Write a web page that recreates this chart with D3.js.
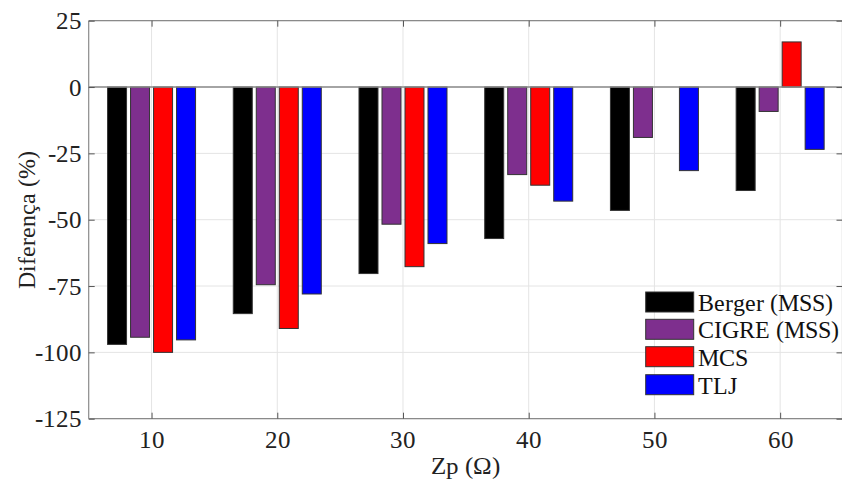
<!DOCTYPE html>
<html>
<head>
<meta charset="utf-8">
<script src="https://cdn.jsdelivr.net/npm/d3@7"></script>
<style>
@font-face { font-family: "ChartSerif"; src: local("Liberation Serif"), local("LiberationSerif"), local("Times New Roman"), local("Tinos"); }
</style>
</head>
<body style="margin:0">
<svg id="chart" width="842" height="486"></svg>
<script>
const categories = [10, 20, 30, 40, 50, 60];
const seriesNames = ["Berger (MSS)", "CIGRE (MSS)", "MCS", "TLJ"];
const berger = [-97, -85.4, -70.3, -57.1, -46.5, -39];
const cigre  = [-94.3, -74.5, -51.7, -33, -19, -9.2];
const mcs    = [-100, -91, -67.7, -37, null, 17];
const tlj    = [-95.3, -78, -59, -43, -31.5, -23.5];
const yTicks = [25, 0, -25, -50, -75, -100, -125];
const xTicks = [10, 20, 30, 40, 50, 60];
const colors = ["#000000", "#7E2F8E", "#FF0000", "#0000FF"];

const seriesValues = [berger, cigre, mcs, tlj];
const FONT = "ChartSerif, 'Liberation Serif', serif";
function serif(sel, size) {
  sel.attr("font-family", FONT).attr("font-size", size)
    .style("font-family", FONT)
    .style("font-size", size + "px");
  return sel;
}

const svg = d3.select("#chart");
const L = 88.7, R = 843, T = 20.7, B = 418.7;

const x = d3.scaleLinear().domain([5, 65]).range([L, R]);
const y = d3.scaleLinear().domain([-125, 25]).range([B, T]);
const x1 = d3.scaleBand().domain(seriesNames).range([-46, 46])
  .paddingInner(4/23).paddingOuter(2/23);

// grid
const grid = svg.append("g");
grid.selectAll("line.gx").data(xTicks).join("line")
  .attr("x1", d => x(d)).attr("x2", d => x(d)).attr("y1", T).attr("y2", B)
  .attr("stroke", "#e4e4e4").attr("stroke-width", 1);
grid.selectAll("line.gy").data(yTicks).join("line")
  .attr("y1", d => y(d)).attr("y2", d => y(d)).attr("x1", L).attr("x2", R)
  .attr("stroke", "#e4e4e4").attr("stroke-width", 1);

// bars
const flat = [];
seriesNames.forEach((s, si) => {
  categories.forEach((c, ci) => {
    const v = seriesValues[si][ci];
    if (v !== null) flat.push({s, si, c, v});
  });
});
svg.append("g").selectAll("rect").data(flat).join("rect")
  .attr("x", d => x(d.c) + x1(d.s))
  .attr("width", x1.bandwidth())
  .attr("y", d => Math.min(y(0), y(d.v)))
  .attr("height", d => Math.abs(y(d.v) - y(0)))
  .attr("fill", d => colors[d.si])
  .attr("stroke", "#333").attr("stroke-width", 1);

// baseline
svg.append("line").attr("x1", L).attr("x2", R).attr("y1", y(0)).attr("y2", y(0))
  .attr("stroke", "#8a8a8a").attr("stroke-width", 1.5);

// axes box
const axisColor = "#8a8a8a";
const bottomAxis = d3.axisBottom(x).tickValues(xTicks).tickSize(-6).tickPadding(12).tickFormat(d3.format("d"));
const gB = svg.append("g").attr("transform", `translate(0,${B})`).call(bottomAxis);
const topAxis = d3.axisTop(x).tickValues(xTicks).tickSize(-6).tickFormat("");
const gT = svg.append("g").attr("transform", `translate(0,${T})`).call(topAxis);
const leftAxis = d3.axisLeft(y).tickValues(yTicks).tickSize(-6).tickPadding(7).tickFormat(d => String(d));
const gL = svg.append("g").attr("transform", `translate(${L},0)`).call(leftAxis);
const rightAxis = d3.axisRight(y).tickValues(yTicks).tickSize(-6).tickFormat("");
const gR = svg.append("g").attr("transform", `translate(${R - 0.5},0)`).call(rightAxis);

[gB, gT, gL, gR].forEach(g => {
  g.attr("font-family", FONT);
  g.select(".domain").attr("stroke", axisColor).attr("stroke-width", 1.2);
  g.selectAll(".tick line").attr("stroke", "#555").attr("stroke-width", 1);
  serif(g.selectAll(".tick text"), 25).attr("fill", "#222");
});
gL.select(".domain").attr("d", `M0,${T}V${B}`);
gR.select(".domain").attr("d", `M0,${T}V${B}`);
gB.select(".domain").attr("d", `M${L},0H${R}`);
gT.select(".domain").attr("d", `M${L},0H${R}`);

// labels
serif(svg.append("text"), 25).attr("x", (L + R) / 2).attr("y", 474)
  .attr("text-anchor", "middle").attr("fill", "#222").text("Zp (Ω)");
serif(svg.append("text"), 24).attr("transform", `translate(35,${(T + B) / 2}) rotate(-90)`)
  .attr("text-anchor", "middle").attr("fill", "#222").text("Diferença (%)");

// legend
const leg = svg.append("g");
const legY = [292, 319.3, 346.7, 374.7];
seriesNames.forEach((s, i) => {
  leg.append("rect").attr("x", 645.7).attr("y", legY[i]).attr("width", 48).attr("height", 20)
    .attr("fill", colors[i]).attr("stroke", "#333").attr("stroke-width", 1);
  serif(leg.append("text"), 24).attr("x", 698).attr("y", legY[i] + 19)
    .attr("fill", "#111").text(s);
});
</script>
</body>
</html>
